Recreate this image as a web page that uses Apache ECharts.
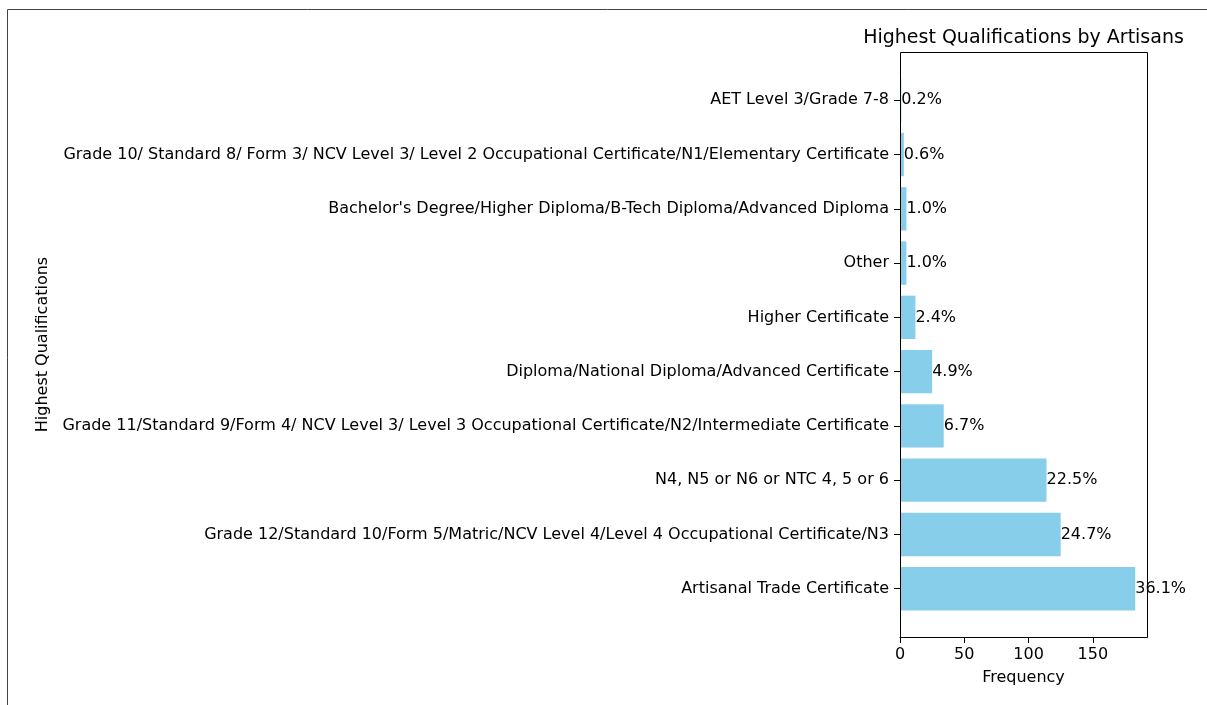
<!DOCTYPE html>
<html>
<head>
<meta charset="utf-8">
<script src="https://cdn.jsdelivr.net/npm/echarts@6/dist/echarts.min.js"></script>
<style>
  html, body { margin: 0; padding: 0; background: #fff; }
  #chart { width: 1207px; height: 705px; }
</style>
</head>
<body>
<div id="chart"></div>
<script>
// bottom to top, as in the plot
const qualifications = [
  'Artisanal Trade Certificate',
  'Grade 12/Standard 10/Form 5/Matric/NCV Level 4/Level 4 Occupational Certificate/N3',
  'N4, N5 or N6 or NTC 4, 5 or 6',
  'Grade 11/Standard 9/Form 4/ NCV Level 3/ Level 3 Occupational Certificate/N2/Intermediate Certificate',
  'Diploma/National Diploma/Advanced Certificate',
  'Higher Certificate',
  'Other',
  "Bachelor's Degree/Higher Diploma/B-Tech Diploma/Advanced Diploma",
  'Grade 10/ Standard 8/ Form 3/ NCV Level 3/ Level 2 Occupational Certificate/N1/Elementary Certificate',
  'AET Level 3/Grade 7-8'
]
const frequency = [183, 125, 114, 34, 25, 12, 5, 5, 3, 1]
const percentLabels = ['36.1%', '24.7%', '22.5%', '6.7%', '4.9%', '2.4%', '1.0%', '1.0%', '0.6%', '0.2%']
const xTicks = [0, 50, 100, 150]

const font = 'DejaVu Sans'
const chart = echarts.init(document.getElementById('chart'))

// plot frame (matplotlib axes box); bars sit inside with a 5% margin top and bottom
const frame = { x: 900, y: 52, w: 247, h: 585 }
const band = frame.h / (qualifications.length + 0.78)
const inner = band * qualifications.length
const innerTop = frame.y + (frame.h - inner) / 2

chart.setOption({
  animation: false,
  textStyle: { fontFamily: font },
  title: {
    text: 'Highest Qualifications by Artisans',
    left: frame.x + frame.w / 2 - 5,
    top: 24,
    textAlign: 'center',
    textStyle: { fontFamily: font, fontSize: 19, fontWeight: 'normal', color: '#000' }
  },
  graphic: [
    { type: 'line', shape: { x1: 7.5, y1: 9.5, x2: 1207, y2: 9.5 }, style: { stroke: '#444', lineWidth: 1 } },
    { type: 'line', shape: { x1: 7.5, y1: 9.5, x2: 7.5, y2: 705 }, style: { stroke: '#444', lineWidth: 1 } },
    {
      type: 'rect', z: 100, silent: true,
      shape: { x: frame.x + 0.5, y: frame.y + 0.5, width: frame.w, height: frame.h },
      style: { fill: null, stroke: '#000', lineWidth: 1 }
    }
  ],
  grid: {
    left: frame.x,
    top: innerTop,
    width: frame.w,
    height: inner,
    containLabel: false
  },
  xAxis: {
    type: 'value',
    min: 0,
    max: 192.15,
    offset: frame.y + frame.h - (innerTop + inner),
    name: 'Frequency',
    nameLocation: 'middle',
    nameGap: 33,
    nameTextStyle: { fontFamily: font, fontSize: 16, color: '#000' },
    splitLine: { show: false },
    axisLine: { show: true, lineStyle: { color: '#000' } },
    axisTick: { show: true, length: 6, customValues: xTicks, lineStyle: { color: '#000' } },
    axisLabel: { customValues: xTicks, margin: 10, fontFamily: font, fontSize: 16, color: '#000' }
  },
  yAxis: {
    type: 'category',
    data: qualifications,
    name: 'Highest Qualifications',
    nameLocation: 'middle',
    nameRotate: 90,
    nameGap: 849,
    nameTextStyle: { fontFamily: font, fontSize: 16, color: '#000' },
    axisLine: { show: false },
    axisTick: { show: true, alignWithLabel: true, length: 6, lineStyle: { color: '#000' } },
    axisLabel: { margin: 11, fontFamily: font, fontSize: 16, color: '#000', interval: 0 }
  },
  series: [{
    type: 'bar',
    data: frequency,
    barCategoryGap: '20%',
    itemStyle: { color: '#87CEEB' },
    label: {
      show: true,
      position: 'right',
      distance: 0,
      fontFamily: font,
      fontSize: 16,
      color: '#000',
      formatter: p => percentLabels[p.dataIndex]
    }
  }]
})
</script>
</body>
</html>
